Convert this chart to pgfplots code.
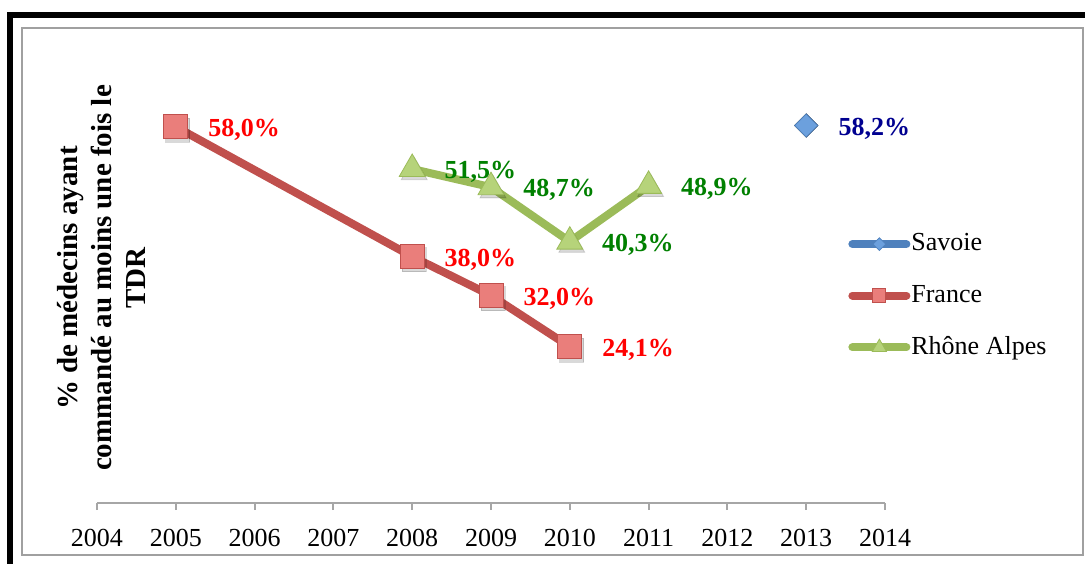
\documentclass[border=0pt]{standalone}
\usepackage{fontspec}
\setmainfont{Liberation Serif}
\usepackage{pgfplots}
\pgfplotsset{compat=1.18}
\definecolor{framegray}{HTML}{A0A0A0}
\definecolor{axgray}{HTML}{A6A6A6}
\definecolor{frline}{HTML}{C0504D}
\definecolor{frfill}{HTML}{EA7E7B}
\definecolor{rhline}{HTML}{9BBB59}
\definecolor{rhfill}{HTML}{B6D37A}
\definecolor{saline}{HTML}{4F81BD}
\definecolor{safill}{HTML}{6CA0DD}
\definecolor{lblred}{HTML}{FF0000}
\definecolor{lblgreen}{HTML}{008000}
\definecolor{lblblue}{HTML}{000090}
\begin{document}
\fontsize{13pt}{15pt}\selectfont
\begin{tikzpicture}[x=1pt,y=1pt]
\useasboundingbox (0,0) rectangle (542.5,282);
\fill[black] (3.5,273) rectangle (542.5,276);
\fill[black] (3.5,0) rectangle (6.5,276);
\draw[line width=1pt, color=framegray] (11,4.5) rectangle (541.5,268);
\begin{axis}[
  at={(48.5pt,30.5pt)}, anchor=south west,
  scale only axis, width=394pt, height=227pt,
  xmin=2004, xmax=2014, ymin=0, ymax=70,
  axis x line=bottom, axis y line=none,
  x axis line style={-, color=axgray, line width=1pt},
  xtick={2004,2005,...,2014},
  xtick align=outside, major tick length=3.5pt,
  tick style={color=axgray, line width=1pt},
  /pgf/number format/1000 sep={},
  /pgf/number format/assume math mode=true,
  xticklabel style={font=\fontsize{13pt}{15pt}\selectfont, yshift=-5pt},
  clip=false,
  point meta=y,
  nodes near coords={\pgfmathprintnumber[fixed,fixed zerofill,precision=1,use comma]{\pgfplotspointmeta}\%},
  every node near coord/.append style={font=\fontsize{13pt}{15pt}\selectfont\bfseries, anchor=west, xshift=16pt, yshift=-1.5pt, inner sep=0pt},
  shadow/.style={forget plot, only marks, nodes near coords={}, 
    mark options={xshift=1pt, yshift=-1.6pt, fill=black, draw=none, opacity=0.15}},
  legend style={draw=none, fill=none, at={(0.953,0.456)}, anchor=west,
    font=\fontsize{13pt}{15pt}\selectfont, row sep=15.2pt, inner sep=0pt,
    nodes={inner xsep=0.5pt, inner ysep=0pt}},
  legend cell align=left,
  legend image code/.code={
    \draw[#1, line cap=round] (0pt,0pt) -- (27pt,0pt);
    \draw[#1, every mark/.append style={scale=0.55}] plot coordinates {(13.5pt,0pt)};
  },
]
\addplot[shadow, mark=square*, mark size=4.1pt, mark options={rotate=45}]
  coordinates {(2013,58.2)};
\addplot[shadow, mark=square*, mark size=6pt]
  coordinates {(2005,58.0) (2008,38.0) (2009,32.0) (2010,24.1)};
\addplot[shadow, mark=triangle*, mark size=7.5pt]
  coordinates {(2008,51.5) (2009,48.7) (2010,40.3) (2011,48.9)};
\addplot[color=saline, line width=4pt, mark=square*, mark size=4.1pt,
  mark options={fill=safill, draw=saline, line width=0.4pt, rotate=45},
  every node near coord/.append style={text=lblblue}]
  coordinates {(2013,58.2)};
\addplot[color=frline, line width=4pt, mark=square*, mark size=6pt,
  mark options={fill=frfill, draw=frline, line width=0.5pt},
  every node near coord/.append style={text=lblred}]
  coordinates {(2005,58.0) (2008,38.0) (2009,32.0) (2010,24.1)};
\addplot[color=rhline, line width=4pt, mark=triangle*, mark size=7.5pt,
  mark options={fill=rhfill, draw=rhline, line width=0.4pt},
  every node near coord/.append style={text=lblgreen}]
  coordinates {(2008,51.5) (2009,48.7) (2010,40.3) (2011,48.9)};
\legend{Savoie, France, Rhône Alpes}
\end{axis}
\node[rotate=90, align=center, font=\fontsize{14.5pt}{17pt}\selectfont\bfseries] at (50.5,143)
  {\% de médecins ayant\\commandé au moins une fois le\\TDR};
\end{tikzpicture}
\end{document}
